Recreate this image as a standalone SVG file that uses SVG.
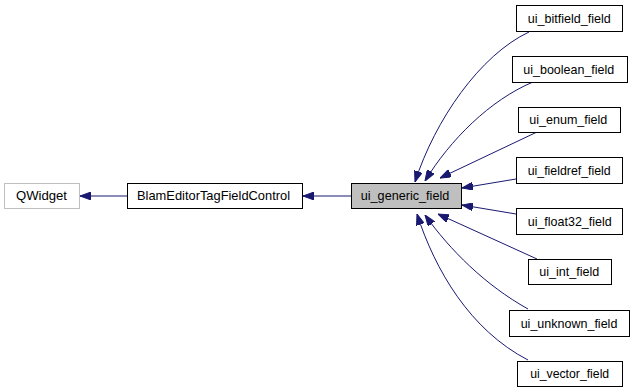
<svg xmlns="http://www.w3.org/2000/svg" width="635" height="392" viewBox="0 0 635 392">
<style>
.n rect{fill:#fff;stroke:#000;stroke-width:1}
text{font-family:"Liberation Sans",Arial,sans-serif;font-size:13px;text-anchor:middle;fill:#000}
.e path{fill:none;stroke:#191970;stroke-width:1}
</style>
<defs>
<marker id="a" viewBox="0 0 11 8" refX="11" refY="4" markerWidth="11" markerHeight="8" markerUnits="userSpaceOnUse" orient="auto">
<path d="M0,0 L11,4 L0,8 z" fill="#191970" stroke="#191970"/>
</marker>
</defs>
<rect width="635" height="392" fill="#fff"/>
<g class="e">
<path d="M127,196 L80,196" marker-end="url(#a)"/>
<path d="M351,196 L303,196" marker-end="url(#a)"/>
<path d="M529,32 C480,55 435,120 415,182" marker-end="url(#a)"/>
<path d="M533,82 C490,100 450,140 425,181" marker-end="url(#a)"/>
<path d="M537,132 L440,178" marker-end="url(#a)"/>
<path d="M516,179 L462,188" marker-end="url(#a)"/>
<path d="M516,214 L462,205" marker-end="url(#a)"/>
<path d="M537,259 L438,214" marker-end="url(#a)"/>
<path d="M528,309 C485,285 450,250 425,215" marker-end="url(#a)"/>
<path d="M528,360 C470,330 435,270 417,214" marker-end="url(#a)"/>
</g>
<g id="QWidget" class="n"><rect x="4.5" y="183.5" width="75" height="25" style="stroke:#bfbfbf"/><text x="41.5" y="200" textLength="51" lengthAdjust="spacingAndGlyphs">QWidget</text></g>
<g id="BlamEditorTagFieldControl" class="n"><rect x="127.5" y="183.5" width="175" height="25"/><text x="213.5" y="200" textLength="153" lengthAdjust="spacingAndGlyphs">BlamEditorTagFieldControl</text></g>
<g id="ui_generic_field" class="n"><rect x="351.5" y="183.5" width="110" height="25" style="fill:#bfbfbf"/><text x="405" y="200" textLength="88.5" lengthAdjust="spacingAndGlyphs">ui_generic_field</text></g>
<g id="ui_bitfield_field" class="n"><rect x="516.5" y="5.5" width="106" height="26"/><text x="569.2" y="22.5" textLength="83" lengthAdjust="spacingAndGlyphs">ui_bitfield_field</text></g>
<g id="ui_boolean_field" class="n"><rect x="512.5" y="56.5" width="115" height="26"/><text x="568.8" y="73.5" textLength="91" lengthAdjust="spacingAndGlyphs">ui_boolean_field</text></g>
<g id="ui_enum_field" class="n"><rect x="518.5" y="107.5" width="102" height="25"/><text x="568.3" y="124" textLength="78" lengthAdjust="spacingAndGlyphs">ui_enum_field</text></g>
<g id="ui_fieldref_field" class="n"><rect x="516.5" y="157.5" width="106" height="26"/><text x="569.2" y="174.5" textLength="83" lengthAdjust="spacingAndGlyphs">ui_fieldref_field</text></g>
<g id="ui_float32_field" class="n"><rect x="516.5" y="208.5" width="106" height="26"/><text x="569.7" y="225.5" textLength="84" lengthAdjust="spacingAndGlyphs">ui_float32_field</text></g>
<g id="ui_int_field" class="n"><rect x="528.5" y="259.5" width="83" height="25"/><text x="569.3" y="276" textLength="60" lengthAdjust="spacingAndGlyphs">ui_int_field</text></g>
<g id="ui_unknown_field" class="n"><rect x="509.5" y="310.5" width="120" height="26"/><text x="569" y="327.5" textLength="96.7" lengthAdjust="spacingAndGlyphs">ui_unknown_field</text></g>
<g id="ui_vector_field" class="n"><rect x="517.5" y="361.5" width="105" height="25"/><text x="569.7" y="378" textLength="79" lengthAdjust="spacingAndGlyphs">ui_vector_field</text></g>
</svg>
